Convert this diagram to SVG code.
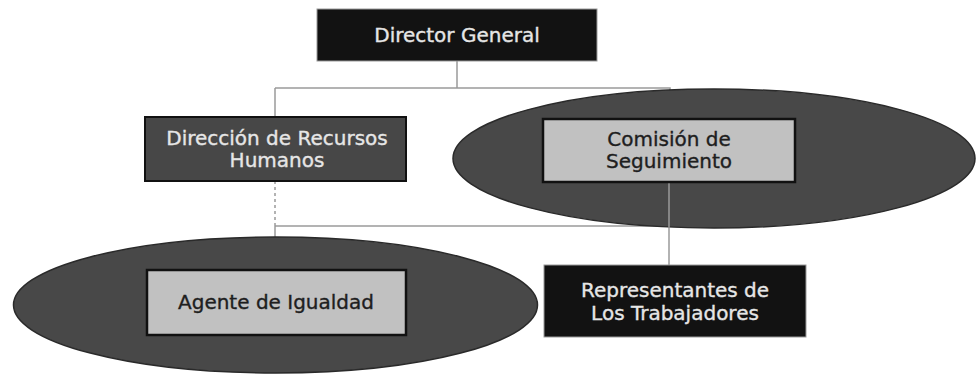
<svg xmlns="http://www.w3.org/2000/svg" width="976" height="374" viewBox="0 0 976 374">
<style>
.line{stroke:#9a9a9a;stroke-width:1.5;fill:none}
.dash{stroke:#9a9a9a;stroke-width:1.5;stroke-dasharray:3 3;fill:none}
.ell{fill:#484848;stroke:#2a2a2a;stroke-width:1.5}
.dark{fill:#121212;stroke:#9a9a9a;stroke-width:1}
.mid{fill:#474747;stroke:#111;stroke-width:2}
.light{fill:#c1c1c1;stroke:#111;stroke-width:2.5}
text{font-family:"DejaVu Sans","Liberation Sans",sans-serif;font-size:20px;text-anchor:middle;stroke-width:0.35}
.wt{fill:#e6e6e6;stroke:#e6e6e6}
.bt{fill:#1e1e1e;stroke:#1e1e1e}
</style>
<rect width="976" height="374" fill="#fff"/>
<g id="connectors">
<path class="line" d="M457 61V88M275 88H670V119M275 88V117"/>
<path class="dash" d="M275 181V226"/>
<path class="line" d="M275 226H670M275 226V240M669 182V265"/>
</g>
<g id="director">
<rect class="dark" x="317" y="9" width="280" height="52"/>
<text class="wt" x="457" y="42">Director General</text>
</g>
<g id="rrhh">
<rect class="mid" x="145" y="117" width="261" height="64"/>
<text class="wt" x="277" y="145">Dirección de Recursos</text>
<text class="wt" x="277" y="167">Humanos</text>
</g>
<g id="comision">
<ellipse class="ell" cx="714" cy="158.5" rx="261" ry="69.5"/>
<path class="line" d="M669 182V228"/>
<rect class="light" x="543" y="119" width="252" height="63"/>
<text class="bt" x="669" y="146">Comisión de</text>
<text class="bt" x="669" y="168">Seguimiento</text>
</g>
<g id="agente">
<ellipse class="ell" cx="275.5" cy="305" rx="262" ry="68"/>
<rect class="light" x="147" y="270" width="259" height="65"/>
<text class="bt" x="276" y="309">Agente de Igualdad</text>
</g>
<g id="representantes">
<rect class="dark" x="544" y="265" width="262" height="72"/>
<text class="wt" x="675" y="297">Representantes de</text>
<text class="wt" x="675" y="320">Los Trabajadores</text>
</g>
</svg>
